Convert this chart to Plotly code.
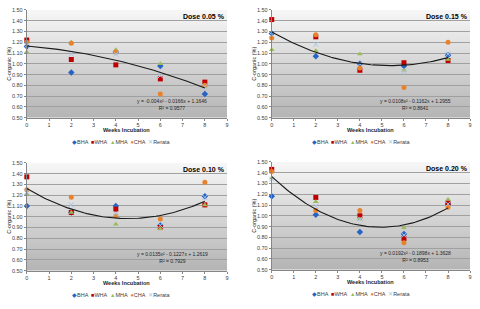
import base64
import numpy as np
import plotly.graph_objects as go

# ---------------- data ----------------
weeks = [0, 2, 4, 6, 8]
series_names = ["BHA", "WHA", "MHA", "CHA", "Rerata"]

# Dose 0.05 %
d005_bha = [1.16, 0.92, 1.11, 0.98, 0.72]
d005_wha = [1.22, 1.04, 0.99, 0.86, 0.83]
d005_mha = [1.11, 1.20, 1.13, 1.00, 0.79]
d005_cha = [1.20, 1.19, 1.11, 0.72, 0.80]
d005_rerata = [1.17, 1.09, 1.09, 0.89, 0.79]

# Dose 0.15 %
d015_bha = [1.28, 1.07, 1.00, 0.98, 1.08]
d015_wha = [1.41, 1.25, 0.94, 1.01, 1.03]
d015_mha = [1.13, 1.12, 1.09, 0.94, 1.04]
d015_cha = [1.24, 1.27, 0.96, 0.78, 1.20]
d015_rerata = [1.27, 1.18, 1.00, 0.93, 1.09]

# Dose 0.10 %
d010_bha = [1.10, 1.04, 1.10, 0.92, 1.19]
d010_wha = [1.37, 1.04, 1.07, 0.90, 1.11]
d010_mha = [1.21, 1.04, 0.93, 0.89, 1.11]
d010_cha = [1.25, 1.18, 1.01, 0.98, 1.32]
d010_rerata = [1.23, 1.11, 1.03, 0.92, 1.18]

# Dose 0.20 %
d020_bha = [1.18, 1.01, 0.85, 0.83, 1.11]
d020_wha = [1.43, 1.17, 1.00, 0.79, 1.12]
d020_mha = [1.35, 1.13, 0.97, 0.89, 1.15]
d020_cha = [1.41, 1.05, 1.05, 0.75, 1.08]
d020_rerata = [1.34, 1.09, 0.97, 0.82, 1.11]

# polynomial trendline coefficients (a, b, c) of y = a x^2 + b x + c
trend_005 = [-0.004, -0.0166, 1.1646]
trend_015 = [0.0108, -0.1162, 1.2955]
trend_010 = [0.0135, -0.1227, 1.2619]
trend_020 = [0.0192, -0.1898, 1.3628]

eq_labels = ["y = -0.004x² - 0.0166x + 1.1646<br>R² = 0.9577",
             "y = 0.0108x² - 0.1162x + 1.2955<br>R² = 0.8641",
             "y = 0.0135x² - 0.1227x + 1.2619<br>R² = 0.7929",
             "y = 0.0192x² - 0.1898x + 1.3628<br>R² = 0.8953"]
dose_labels = ["Dose 0.05 %", "Dose 0.15 %", "Dose 0.10 %", "Dose 0.20 %"]
y_ticks = [0.50, 0.60, 0.70, 0.80, 0.90, 1.00, 1.10, 1.20, 1.30, 1.40, 1.50]
x_ticks = [0, 1, 2, 3, 4, 5, 6, 7, 8, 9]

# ---------------- styling ----------------
W, H = 480, 309
colors = ["#2563C4", "#C00000", "#9BBB59", "#E8822B", "#A9C4E4"]
symbols = ["diamond", "square", "triangle-up", "circle", "x-thin-open"]
legend_glyphs = ["◆", "■", "▲", "●", "✕"]

panels = [
    dict(data=[d005_bha, d005_wha, d005_mha, d005_cha, d005_rerata], trend=trend_005,
         px=(25, 227), py=(7, 117), eq=eq_labels[0], dose=dose_labels[0], xt=12.5),
    dict(data=[d015_bha, d015_wha, d015_mha, d015_cha, d015_rerata], trend=trend_015,
         px=(272, 472), py=(7, 117), eq=eq_labels[1], dose=dose_labels[1], xt=12.5),
    dict(data=[d010_bha, d010_wha, d010_mha, d010_cha, d010_rerata], trend=trend_010,
         px=(25, 227), py=(163, 273), eq=eq_labels[2], dose=dose_labels[2], xt=13),
    dict(data=[d020_bha, d020_wha, d020_mha, d020_cha, d020_rerata], trend=trend_020,
         px=(272, 472), py=(162, 272), eq=eq_labels[3], dose=dose_labels[3], xt=13),
]

svg = ('<svg xmlns="http://www.w3.org/2000/svg" width="10" height="100" preserveAspectRatio="none">'
       '<defs><linearGradient id="g" x1="0" y1="0" x2="0" y2="1">'
       '<stop offset="0" stop-color="#f7f7f7"/><stop offset="1" stop-color="#b4b4b4"/>'
       '</linearGradient></defs><rect width="10" height="100" fill="url(#g)"/></svg>')
grad_src = "data:image/svg+xml;base64," + base64.b64encode(svg.encode()).decode()

FONT = "Liberation Sans, Arial, sans-serif"
fig = go.Figure()
layout = dict(width=W, height=H, margin=dict(l=0, r=0, t=0, b=0),
              paper_bgcolor="white", plot_bgcolor="rgba(0,0,0,0)",
              showlegend=False, font=dict(family=FONT, size=6, color="#404040"))
annotations = []
images = []


def fx(p):
    return p / W


def fy(p):
    return 1 - p / H


for i, p in enumerate(panels):
    n = "" if i == 0 else str(i + 1)
    xa, ya = "x" + n, "y" + n
    for k, name in enumerate(series_names):
        fig.add_trace(go.Scatter(
            x=weeks, y=p["data"][k], mode="markers", name=name,
            marker=dict(symbol=symbols[k], size=5, color=colors[k],
                        line=dict(width=1 if k == 4 else 0, color=colors[k])),
            xaxis=xa, yaxis=ya, cliponaxis=False))
    a, b, c = p["trend"]
    xs = np.linspace(0, 8, 81)
    fig.add_trace(go.Scatter(x=xs, y=a * xs ** 2 + b * xs + c, mode="lines",
                             line=dict(color="#1a1a1a", width=1.1),
                             xaxis=xa, yaxis=ya, hoverinfo="skip"))
    x0, x1 = p["px"]
    y0, y1 = p["py"]
    layout["xaxis" + n] = dict(domain=[fx(x0), fx(x1)], range=[0, 9], tickvals=x_ticks,
                               showgrid=False, zeroline=False, showline=True,
                               linecolor="#868686", linewidth=1, ticks="outside",
                               ticklen=2, tickcolor="#868686",
                               tickfont=dict(size=5.5, color="#404040"),
                               anchor=ya)
    layout["yaxis" + n] = dict(domain=[fy(y1), fy(y0)], range=[0.5, 1.5], tickvals=y_ticks,
                               tickformat=".2f", showgrid=True, gridcolor="#a0a0a0",
                               gridwidth=0.6, zeroline=False, showline=True,
                               linecolor="#868686", linewidth=1, ticks="outside",
                               ticklen=2, tickcolor="#868686",
                               tickfont=dict(size=5.5, color="#404040"),
                               anchor=xa)
    images.append(dict(source=grad_src, xref=xa + " domain", yref=ya + " domain",
                       x=0, y=1, sizex=1, sizey=1, sizing="stretch",
                       xanchor="left", yanchor="top", layer="below"))
    # dose label
    annotations.append(dict(text="<b>" + p["dose"] + "</b>", x=fx(x1 - 23), y=fy(y0 + 7),
                            xref="paper", yref="paper", showarrow=False,
                            xanchor="center", yanchor="middle",
                            font=dict(size=7, color="#000000")))
    # equation
    annotations.append(dict(text=p["eq"], x=fx(x0 + 0.725 * (x1 - x0)), y=fy(y0 + 97),
                            xref="paper", yref="paper", showarrow=False,
                            xanchor="center", yanchor="middle",
                            font=dict(size=5, color="#262626")))
    # y title
    annotations.append(dict(text="C-organic (%)", x=fx(x0 - 18), y=fy((y0 + y1) / 2),
                            xref="paper", yref="paper", showarrow=False, textangle=-90,
                            xanchor="center", yanchor="middle",
                            font=dict(size=5.5, color="#262626")))
    # x title
    annotations.append(dict(text="<b>Weeks Incubation</b>", x=fx((x0 + x1) / 2), y=fy(y1 + p["xt"]),
                            xref="paper", yref="paper", showarrow=False,
                            xanchor="center", yanchor="middle",
                            font=dict(size=5.5, color="#262626")))
    # legend
    parts = []
    for k, name in enumerate(series_names):
        parts.append('<span style="color:%s">%s</span>%s' % (colors[k], legend_glyphs[k], name))
    annotations.append(dict(text="  ".join(parts),
                            x=fx((x0 + x1) / 2 - 5 if i % 2 == 0 else (x0 + x1) / 2 - 9),
                            y=fy(y1 + 25), xref="paper", yref="paper", showarrow=False,
                            xanchor="center", yanchor="middle",
                            font=dict(size=5.5, color="#404040")))

layout["annotations"] = annotations
layout["images"] = images
fig.update_layout(**layout)
fig.write_html("out.html", config={"displayModeBar": False},
               post_script="document.body.style.margin='0';document.body.style.padding='0';")
